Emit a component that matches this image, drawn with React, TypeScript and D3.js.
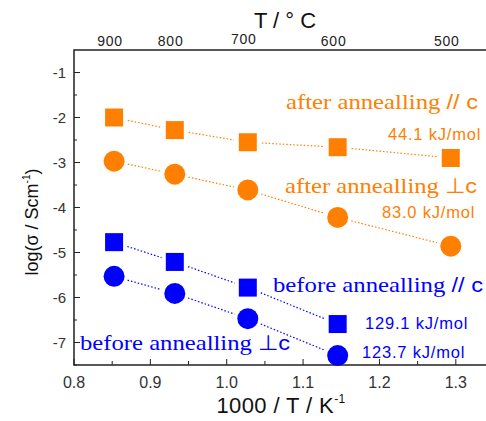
import { useEffect, useRef } from "react";
import * as d3 from "d3";

const invT = [0.8525, 0.932, 1.0276, 1.1453, 1.2934];
const afterPar = [-2.0, -2.28, -2.55, -2.66, -2.9];
const afterPerp = [-2.97, -3.26, -3.61, -4.22, -4.86];
const beforePar = [-4.77, -5.21, -5.78, -6.59];
const beforePerp = [-5.53, -5.91, -6.47, -7.29];
const topTicks = [900, 800, 700, 600, 500];
const yTicks = [-7, -6, -5, -4, -3, -2, -1];
const xTicks = [0.8, 0.9, 1.0, 1.1, 1.2, 1.3];

const ORANGE = "#ff8000";
const BLUE = "#0000ff";

export default function App() {
  const ref = useRef<SVGSVGElement>(null);

  useEffect(() => {
    const svg = d3.select(ref.current);
    svg.selectAll("*").remove();

    const x = d3.scaleLinear().domain([0.8, 1.35]).range([74, 494]);
    const y = d3.scaleLinear().domain([-7.5, -0.5]).range([365, 50]);

    const sans = "'Liberation Sans', Arial, sans-serif";
    const serif = "'Liberation Serif', 'Times New Roman', serif";

    // frame
    svg.append("path")
      .attr("d", `M486,${y(-0.5)}H${x(0.8)}V${y(-7.5)}H486`)
      .attr("fill", "none").attr("stroke", "#222").attr("stroke-width", 1.5);

    // y ticks
    yTicks.forEach(v => {
      svg.append("line").attr("x1", 74).attr("x2", 80).attr("y1", y(v)).attr("y2", y(v)).attr("stroke", "#222");
      svg.append("text").attr("x", 66).attr("y", y(v) + 5.5).attr("text-anchor", "end")
        .attr("font-family", sans).attr("font-size", 15).attr("fill", "#333").text(String(v));
    });
    d3.range(-7.5, -0.5, 1).forEach(v => {
      svg.append("line").attr("x1", 74).attr("x2", 77).attr("y1", y(v)).attr("y2", y(v)).attr("stroke", "#222");
    });

    // x ticks
    xTicks.forEach(v => {
      svg.append("line").attr("x1", x(v)).attr("x2", x(v)).attr("y1", 365).attr("y2", 359).attr("stroke", "#222");
      svg.append("text").attr("x", x(v)).attr("y", 388).attr("text-anchor", "middle")
        .attr("font-family", sans).attr("font-size", 16).attr("fill", "#333").text(v.toFixed(1));
    });
    d3.range(0.85, 1.35, 0.1).forEach(v => {
      svg.append("line").attr("x1", x(v)).attr("x2", x(v)).attr("y1", 365).attr("y2", 361).attr("stroke", "#222");
    });

    // top axis (°C)
    topTicks.forEach(t => {
      svg.append("text").attr("x", x(1000 / (t + 273.15)) - 4).attr("y", t === 700 ? 44 : 46)
        .attr("text-anchor", "middle").attr("font-family", sans).attr("font-size", 14)
        .attr("letter-spacing", 0.8).attr("fill", "#222").text(String(t));
    });
    svg.append("text").attr("x", 285).attr("y", 28).attr("text-anchor", "middle")
      .attr("font-family", sans).attr("font-size", 22).attr("fill", "#111").text("T / ° C");

    // axis titles
    const xt = svg.append("text").attr("x", 281).attr("y", 413).attr("text-anchor", "middle")
      .attr("font-family", sans).attr("font-size", 22).attr("letter-spacing", 0.4).attr("fill", "#111");
    xt.append("tspan").text("1000 / T / K");
    xt.append("tspan").attr("font-size", 12).attr("dy", -10).text("-1");

    const yt = svg.append("text").attr("transform", "translate(38,222) rotate(-90)")
      .attr("text-anchor", "middle").attr("font-family", sans).attr("font-size", 18).attr("fill", "#111");
    yt.append("tspan").text("log(σ / Scm");
    yt.append("tspan").attr("font-size", 10).attr("dy", -8).text("-1");
    yt.append("tspan").attr("dy", 8).text(")");

    const series = [
      { vals: afterPar, color: ORANGE, shape: "square" },
      { vals: afterPerp, color: ORANGE, shape: "circle" },
      { vals: beforePar, color: BLUE, shape: "square" },
      { vals: beforePerp, color: BLUE, shape: "circle" },
    ];

    // dotted connectors, with a gap at each marker
    series.forEach(s => {
      for (let i = 0; i < s.vals.length - 1; i++) {
        const x0 = x(invT[i]), y0 = y(s.vals[i]);
        const x1 = x(invT[i + 1]), y1 = y(s.vals[i + 1]);
        const len = Math.hypot(x1 - x0, y1 - y0);
        const ux = (x1 - x0) / len, uy = (y1 - y0) / len;
        const g = 14;
        svg.append("line")
          .attr("x1", x0 + ux * g).attr("y1", y0 + uy * g)
          .attr("x2", x1 - ux * g).attr("y2", y1 - uy * g)
          .attr("stroke", s.color).attr("stroke-width", 1.2).attr("stroke-dasharray", "1.5,2");
      }
    });
    series.forEach(s => {
      s.vals.forEach((v, i) => {
        if (s.shape === "square") {
          svg.append("rect").attr("x", x(invT[i]) - 9).attr("y", y(v) - 9)
            .attr("width", 18).attr("height", 18).attr("fill", s.color);
        } else {
          svg.append("circle").attr("cx", x(invT[i])).attr("cy", y(v)).attr("r", 10.5).attr("fill", s.color);
        }
      });
    });

    // annotations
    const label = (tx: number, ty: number, main: string, sym: string, color: string, w: number) => {
      const t = svg.append("text").attr("x", tx).attr("y", ty).attr("fill", color)
        .attr("font-family", serif).attr("font-size", 22)
        .attr("textLength", w).attr("lengthAdjust", "spacingAndGlyphs");
      t.append("tspan").text(main);
      t.append("tspan").attr("font-family", sans).attr("font-size", 21).text(sym);
    };
    const energy = (tx: number, ty: number, s: string, color: string) => {
      svg.append("text").attr("x", tx).attr("y", ty).attr("fill", color)
        .attr("font-family", sans).attr("font-size", 16.5).attr("letter-spacing", 0.8).text(s);
    };
    label(286, 109, "after annealling ", " // c", ORANGE, 192);
    energy(388, 140, "44.1 kJ/mol", ORANGE);
    label(285, 193, "after annealling ", "⊥c", ORANGE, 192);
    energy(382, 218, "83.0 kJ/mol", ORANGE);
    label(273, 292, "before annealling ", " // c", BLUE, 210);
    energy(365, 329, "129.1 kJ/mol", BLUE);
    energy(362, 358, "123.7 kJ/mol", BLUE);
    label(80, 350, "before annealling ", "⊥c", BLUE, 210);
  }, []);

  return <svg ref={ref} width={486} height={421} style={{ position: "absolute", left: 0, top: 0 }} />;
}
